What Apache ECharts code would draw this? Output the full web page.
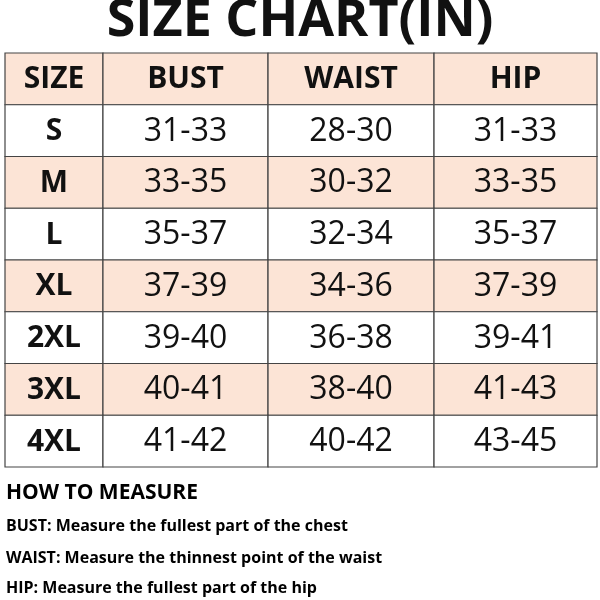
<!DOCTYPE html>
<html><head><meta charset="utf-8">
<script src="https://cdn.jsdelivr.net/npm/echarts@6/dist/echarts.min.js"></script>
<style>html,body{margin:0;padding:0;background:#fff}#c{width:600px;height:600px}</style>
</head><body><div id="c"></div>
<script>
const headers = ['SIZE','BUST','WAIST','HIP'];
const sizes = ['S','M','L','XL','2XL','3XL','4XL'];
const bust = ['31-33','33-35','35-37','37-39','39-40','40-41','41-42'];
const waist = ['28-30','30-32','32-34','34-36','36-38','38-40','40-42'];
const hip = ['31-33','33-35','35-37','37-39','39-41','41-43','43-45'];
const notes = ['BUST: Measure the fullest part of the chest','WAIST: Measure the thinnest point of the waist','HIP: Measure the fullest part of the hip'];

// column edges in axis units (layout)
const colEdges = [0, 0.844, 2.266, 3.696, 5.1];
const rows = [headers].concat(sizes.map((s,i)=>[s,bust[i],waist[i],hip[i]]));
const data = [];
rows.forEach((r,ri)=>r.forEach((t,ci)=>data.push([ci, ri, t])));

const chart = echarts.init(document.getElementById('c'));
chart.setOption({
  animation:false,
  title:{text:'SIZE CHART(IN)',left:'center',top:-10,textStyle:{fontFamily:'Open Sans',fontWeight:'bold',fontSize:52,color:'#111'}},
  grid:{left:5,right:3,top:53,bottom:133},
  xAxis:{type:'value',min:0,max:5.1,show:false},
  yAxis:{type:'value',min:0,max:8,inverse:true,show:false},
  series:[{
    type:'custom',
    data:data,
    renderItem:function(params,api){
      const c=api.value(0), r=api.value(1);
      const p0=api.coord([colEdges[c], r]);
      const p1=api.coord([colEdges[c+1], r+1]);
      const pink = (r%2===0);
      const bold = (r===0 || c===0);
      return {type:'group',children:[
        {type:'rect',shape:{x:p0[0],y:p0[1],width:p1[0]-p0[0],height:p1[1]-p0[1]},
         style:{fill:pink?'#fce4d6':'#ffffff',stroke:'#444',lineWidth:1.2}},
        {type:'text',x:(p0[0]+p1[0])/2,y:(p0[1]+p1[1])/2+1,
         style:{text:rows[r][c],align:'center',verticalAlign:'middle',
           font:(bold?'bold 30px':'32px')+' "Open Sans", sans-serif',
           fill:'#111', letterSpacing: bold?0:2}}
      ]};
    }
  }],
  graphic:[
    {type:'text',left:6,top:483,style:{text:'HOW TO MEASURE',font:'bold 21px "Open Sans", sans-serif',fill:'#000'}},
    {type:'text',left:6,top:518,style:{text:notes[0],font:'bold 16px "Open Sans", sans-serif',fill:'#000'}},
    {type:'text',left:6,top:550,style:{text:notes[1],font:'bold 16px "Open Sans", sans-serif',fill:'#000'}},
    {type:'text',left:6,top:580,style:{text:notes[2],font:'bold 16px "Open Sans", sans-serif',fill:'#000'}}
  ]
});
</script></body></html>
